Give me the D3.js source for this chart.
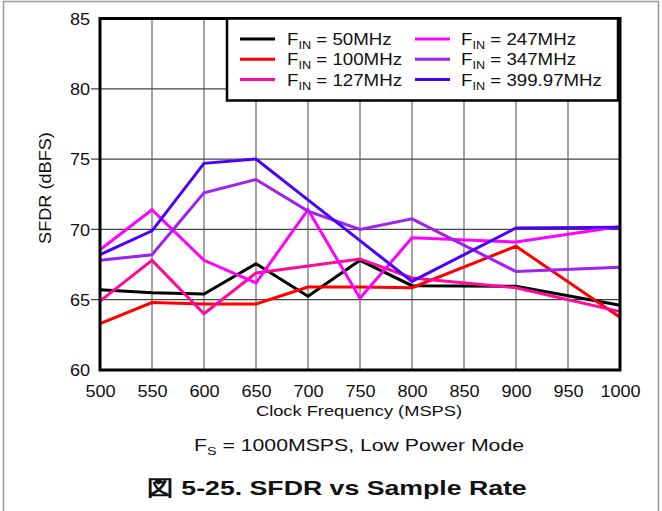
<!DOCTYPE html>
<html><head><meta charset="utf-8">
<script src="https://cdn.jsdelivr.net/npm/d3@7"></script>
<style>body{margin:0;background:#fff}svg{display:block;font-family:"Liberation Sans",Arial,Helvetica,sans-serif}</style>
</head><body><svg id="c" width="662" height="511"></svg>
<script>
const freqs = [500, 550, 600, 650, 700, 750, 800, 900, 1000];
const f50  = [65.7, 65.5, 65.4, 67.55, 65.25, 67.8, 66.0, 65.95, 64.6];
const f100 = [63.3, 64.8, 64.7, 64.7, 65.9, 65.9, 65.85, 68.8, 63.75];
const f127 = [64.9, 67.8, 64.0, 66.9, 67.4, 67.9, 66.55, 65.85, 64.15];
const f247 = [68.55, 71.4, 67.8, 66.2, 71.4, 65.1, 69.4, 69.1, 70.2];
const f347 = [67.8, 68.2, 72.6, 73.55, 71.3, 70.0, 70.75, 67.0, 67.3];
const f399 = [68.2, 69.9, 74.7, 75.0, 72.1, 69.2, 66.3, 70.1, 70.15];
const seriesNames = ["50MHz", "100MHz", "127MHz", "247MHz", "347MHz", "399.97MHz"];
const seriesColors = ["#000000", "#ff0000", "#ff0a9a", "#ff00ff", "#a020f0", "#4a00ff"];
const xTicks = [500, 550, 600, 650, 700, 750, 800, 850, 900, 950, 1000];
const yTicks = [60, 65, 70, 75, 80, 85];
const seriesVals = [f50, f100, f127, f247, f347, f399];

const svg = d3.select("#c");
const L = 100, R = 620, T = 18.5, B = 370;
const x = d3.scaleLinear().domain([500, 1000]).range([L, R]);
const y = d3.scaleLinear().domain([60, 85]).range([B, T]);

// outer frame
svg.append("rect").attr("x", 3.5).attr("y", 1.5).attr("width", 655).attr("height", 520)
  .attr("fill", "none").attr("stroke", "#999").attr("stroke-width", 1.5);

// gridlines
svg.append("g").selectAll("line").data(xTicks.slice(1, -1)).join("line")
  .attr("x1", d => x(d)).attr("x2", d => x(d)).attr("y1", T).attr("y2", B)
  .attr("stroke", "#666").attr("stroke-width", 1.2);
svg.append("g").selectAll("line").data(yTicks.slice(1, -1)).join("line")
  .attr("x1", L - 9).attr("x2", R).attr("y1", d => y(d)).attr("y2", d => y(d))
  .attr("stroke", "#444").attr("stroke-width", 1.2);

// axes labels via d3 axes
const xa = svg.append("g").attr("transform", `translate(0,${B})`)
  .call(d3.axisBottom(x).tickValues(xTicks).tickSize(0).tickFormat(d3.format("d")));
xa.select(".domain").remove();
xa.selectAll("text").attr("x", 0).attr("y", 0).attr("dy", 27).attr("font-size", 16)
  .attr("font-family", "Liberation Sans, Arial, sans-serif").attr("fill", "#111")
  .attr("transform", "scale(1.13,1)");
const ya = svg.append("g").attr("transform", `translate(${L},0)`)
  .call(d3.axisLeft(y).tickValues(yTicks).tickSize(0).tickFormat(d3.format("d")));
ya.select(".domain").remove();
ya.selectAll("text").attr("x", -10 / 1.13).attr("dy", "0.36em").attr("font-size", 16)
  .attr("font-family", "Liberation Sans, Arial, sans-serif").attr("fill", "#111")
  .attr("transform", "scale(1.13,1)");

// series
const line = d3.line().x((d, i) => x(freqs[i])).y(d => y(d));
svg.append("g").selectAll("path").data(seriesVals).join("path")
  .attr("d", d => line(d)).attr("fill", "none")
  .attr("stroke", (d, i) => seriesColors[i]).attr("stroke-width", 3)
  .attr("stroke-linejoin", "miter");

// plot border
svg.append("rect").attr("x", L).attr("y", T).attr("width", R - L).attr("height", B - T)
  .attr("fill", "none").attr("stroke", "#000").attr("stroke-width", 3);

// legend
const lg = svg.append("g");
lg.append("rect").attr("x", 227).attr("y", T).attr("width", 391).attr("height", 82)
  .attr("fill", "#fff").attr("stroke", "#000").attr("stroke-width", 2.5);
seriesNames.forEach((nm, i) => {
  const col = Math.floor(i / 3), row = i % 3;
  const lx = col === 0 ? 240 : 415, tx = col === 0 ? 287 : 461;
  const by = 45 + row * 20.3;
  lg.append("line").attr("x1", lx).attr("x2", lx + 35).attr("y1", by - 6).attr("y2", by - 6)
    .attr("stroke", seriesColors[i]).attr("stroke-width", 3);
  const t = lg.append("g").attr("transform", `translate(${tx},${by}) scale(1.1,1)`)
    .append("text").attr("font-size", 17).attr("fill", "#111");
  t.append("tspan").text("F");
  t.append("tspan").attr("font-size", 11.5).attr("dy", 4).text("IN");
  t.append("tspan").attr("dy", -4).text(" = " + nm);
});

// axis titles
svg.append("g").attr("transform", "translate(359,416) scale(1.18,1)")
  .append("text").attr("text-anchor", "middle").attr("font-size", 15.5).attr("fill", "#111")
  .text("Clock Frequency (MSPS)");
svg.append("g").attr("transform", "translate(51,188) rotate(-90) scale(1.1,1)")
  .append("text").attr("text-anchor", "middle").attr("font-size", 16.5).attr("fill", "#111")
  .text("SFDR (dBFS)");

// subtitle
const st = svg.append("g").attr("transform", "translate(359,451) scale(1.25,1)")
  .append("text").attr("text-anchor", "middle").attr("font-size", 17).attr("fill", "#111");
st.append("tspan").text("F");
st.append("tspan").attr("font-size", 11.5).attr("dy", 4).text("S");
st.append("tspan").attr("dy", -4).text(" = 1000MSPS, Low Power Mode");

// title
svg.append("g").attr("transform", "translate(337,495) scale(1.27,1)")
  .append("text").attr("text-anchor", "middle").attr("font-size", 21).attr("font-weight", "bold")
  .attr("fill", "#111").text("図 5-25. SFDR vs Sample Rate");
</script></body></html>
